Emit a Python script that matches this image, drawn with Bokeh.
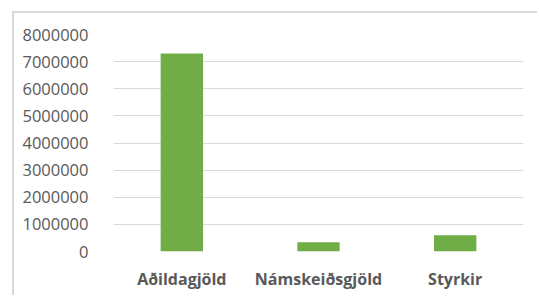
from bokeh.plotting import figure
from bokeh.models import FixedTicker, NumeralTickFormatter
from bokeh.embed import file_html
from bokeh.resources import INLINE

categories = ["Aðildagjöld", "Námskeiðsgjöld", "Styrkir"]
values = [7300000, 340000, 600000]
y_ticks = [0, 1000000, 2000000, 3000000, 4000000, 5000000, 6000000, 7000000, 8000000]

p = figure(x_range=categories, y_range=(0, 8000000), width=525, height=284,
           output_backend="svg", toolbar_location=None,
           min_border_left=99, min_border_right=16, min_border_top=21, min_border_bottom=46,
           margin=(11, 0, 0, 12),
           styles={"border-left": "2px solid #d9d9d9", "border-top": "2px solid #d9d9d9"})
p.vbar(x=categories, top=values, width=0.31, fill_color="#70ad47", line_color=None, level="glyph")

p.outline_line_color = None
p.xgrid.grid_line_color = None
p.ygrid.grid_line_color = "#d9d9d9"
p.ygrid.grid_line_width = 1
p.ygrid.level = "underlay"

p.yaxis.ticker = FixedTicker(ticks=y_ticks)
p.yaxis.formatter = NumeralTickFormatter(format="0")
p.yaxis.axis_line_color = None
p.yaxis.major_tick_line_color = None
p.yaxis.minor_tick_line_color = None
p.yaxis.major_label_standoff = 19
p.yaxis.major_label_text_font = "Open Sans"
p.yaxis.major_label_text_font_size = "16.5px"
p.yaxis.major_label_text_color = "#595959"

p.xaxis.axis_line_color = None
p.xaxis.major_tick_line_color = None
p.xaxis.major_label_standoff = 10
p.xaxis.major_label_text_font = "Open Sans"
p.xaxis.major_label_text_font_size = "16px"
p.xaxis.major_label_text_font_style = "bold"
p.xaxis.major_label_text_color = "#595959"

open("out.html", "w").write(file_html(p, INLINE))
